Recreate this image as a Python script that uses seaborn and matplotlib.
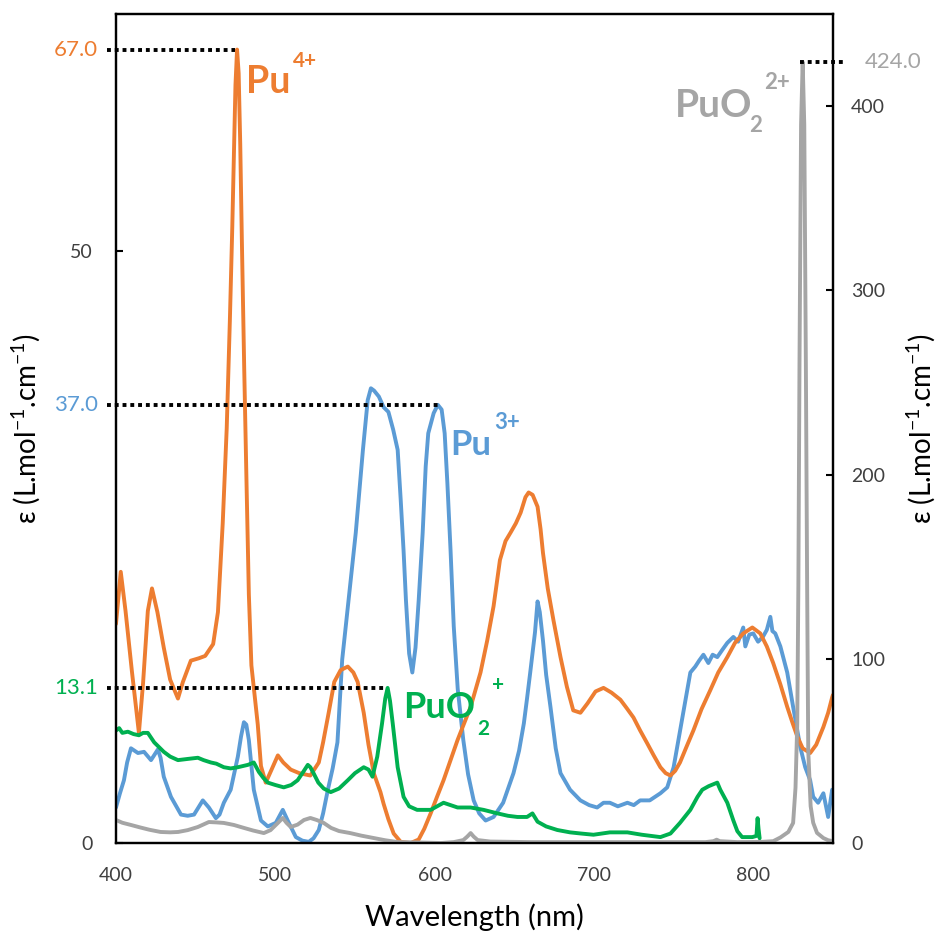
import matplotlib
matplotlib.use("Agg")
import matplotlib.pyplot as plt
import seaborn as sns

# ---------------- data ----------------
wl_pu4 = [400, 403, 406, 410, 414.4, 417, 420, 422.6, 426, 430, 434, 438.9, 442, 447, 452, 456, 461,
          464, 467, 469.5, 471.5, 473, 474, 475, 476, 477, 478, 479, 480.5, 482, 483.4, 485, 487, 489,
          491, 494, 497, 501.6, 505, 509.7, 515, 522, 527.3, 530, 533.5, 537, 541, 545.5, 549, 551.7,
          555.5, 558.5, 561.8, 566, 568, 571, 574.3, 578.7, 585, 590, 593.5, 597.5, 601.5, 605.6, 610,
          614.4, 618.5, 622.6, 628.8, 633, 637, 641, 644.5, 647.6, 651, 654, 657, 659, 661.5, 664.6,
          666.5, 668, 671, 674.6, 679, 683, 687, 691.5, 696, 701, 706, 711, 716.6, 720.5, 724.8, 729,
          733.5, 737.5, 741.7, 745, 748, 751, 754, 758, 762.4, 767.5, 773, 778, 783.7, 788.5, 793.7,
          799.4, 804.4, 808.5, 812.5, 817, 821.3, 824.5, 827.6, 831, 835.7, 839.5, 844, 847, 849.5, 850]
eps_pu4 = [18.5, 22.9, 19.6, 14.5, 9.3, 13.5, 19.6, 21.5, 19.5, 16.5, 13.8, 12.2, 13.6, 15.4, 15.6, 15.8, 16.8,
           19.5, 27.0, 35.0, 44.2, 52.0, 58.0, 64.0, 67.0, 65.0, 59.0, 51.0, 40.0, 30.0, 21.0, 15.0, 12.5, 10.0,
           6.5, 5.1, 6.0, 7.4, 6.8, 6.2, 5.9, 5.7, 6.8, 8.5, 11.0, 13.6, 14.6, 14.9, 14.4, 13.6,
           11.0, 8.3, 5.9, 4.3, 3.3, 2.0, 0.8, 0.1, 0.0, 0.3, 1.2, 2.5, 3.9, 5.3, 7.0,
           8.7, 10.1, 11.5, 14.4, 17.1, 20.0, 23.9, 25.5, 26.2, 27.0, 27.9, 29.2, 29.6, 29.4, 28.4,
           26.5, 24.5, 21.5, 18.8, 15.7, 13.2, 11.2, 11.0, 11.8, 12.8, 13.1, 12.7, 12.1, 11.4, 10.6, 9.5,
           8.4, 7.4, 6.4, 5.9, 5.7, 6.1, 6.8, 8.1, 9.5, 11.3, 12.9, 14.4, 15.7, 16.9, 17.7,
           18.2, 17.7, 16.6, 15.2, 13.4, 11.5, 10.2, 9.0, 8.0, 7.6, 8.3, 9.8, 11.0, 12.3, 12.5]

wl_pu3 = [400, 402.5, 405, 407, 409.4, 413.8, 417.6, 422, 426.3, 428, 430, 434.5, 440.8, 445, 449, 454.5,
          458.3, 462.7, 465, 467.7, 472, 476.5, 478.5, 480.3, 481.8, 483.4, 486.5, 491, 495.3, 500.3, 504.7,
          507.8, 512.9, 517, 521, 524, 527.3, 530, 533, 536, 539, 542, 546, 550.5, 555, 558, 560, 562,
          565, 568, 571, 574, 576.8, 578.7, 580.5, 582, 584, 586, 588, 590, 592.5, 594.4, 596, 599.4,
          602, 604.4, 606.3, 608, 610, 612, 614.5, 618, 621, 624.5, 628, 632, 637, 643, 649.5, 653,
          656, 658, 660, 663, 664.6, 666, 668, 670, 672.7, 676, 679, 685, 691.5, 697, 702, 706, 710,
          715, 721, 725, 729, 735, 741.7, 746, 750, 753, 757.4, 760.5, 763.6, 766, 768.7, 771.8, 774.5,
          777.4, 780.5, 783.7, 787.5, 790.5, 793.7, 795, 797.5, 800, 803, 806, 808.5, 810.7, 812, 813.8,
          817, 821.3, 825, 829.5, 832.6, 835.7, 837.6, 840.7, 844, 847, 849.5, 850]
eps_pu3 = [3.0, 4.2, 5.3, 6.8, 8.0, 7.6, 7.7, 7.0, 7.9, 7.2, 5.6, 3.9, 2.4, 2.3, 2.4, 3.6,
           3.0, 2.1, 2.4, 3.4, 4.5, 7.3, 9.0, 10.2, 10.0, 8.7, 4.5, 1.9, 1.4, 1.7, 2.8,
           1.9, 0.5, 0.2, 0.1, 0.4, 1.1, 2.5, 4.5, 6.3, 8.5, 15.5, 20.5, 26.2, 33.2, 37.4, 38.4, 38.2,
           37.7, 36.8, 36.4, 34.9, 33.2, 29.0, 24.7, 20.5, 16.0, 14.4, 16.5, 20.5, 26.2, 31.8, 34.6, 36.3,
           37.0, 36.6, 34.6, 30.4, 24.7, 18.3, 13.0, 8.7, 5.8, 3.6, 2.5, 1.9, 2.2, 3.4, 5.9, 7.8,
           10.1, 12.2, 14.4, 17.8, 20.4, 19.5, 17.1, 14.2, 11.5, 8.0, 5.9, 4.5, 3.6, 3.2, 3.0, 3.4, 3.4,
           3.1, 3.4, 3.2, 3.6, 3.6, 4.2, 4.7, 6.4, 8.7, 12.1, 14.4, 14.9, 15.4, 15.9, 15.2, 15.9,
           15.7, 16.3, 16.9, 17.4, 17.0, 18.2, 16.6, 17.6, 17.7, 17.0, 17.4, 18.0, 19.1, 17.9, 17.7,
           16.6, 14.4, 11.5, 8.1, 6.4, 5.3, 3.9, 3.4, 4.2, 2.2, 4.5, 4.0]

wl_puo2 = [400, 402, 404, 407.5, 411, 414.4, 417, 420, 424, 430, 434, 438.9, 445, 451.4, 455, 459.6, 463,
           467.7, 472, 476.5, 482.8, 486.5, 489.7, 492.5, 495.3, 500, 505.3, 510, 514, 517.5, 520.4, 522,
           524, 527, 530.4, 534.8, 540, 545.5, 550, 555.5, 558.5, 561, 564, 567, 569, 570.5, 572, 573.7,
           576.8, 580.5, 584, 589, 597.5, 605.6, 610, 614.4, 622.6, 630.7, 639.5, 646, 652, 658, 661.4,
           664.6, 670, 677, 685, 692, 699.7, 710, 721, 730, 741.7, 748, 754, 760.5, 765, 768, 772, 777.4,
           779.3, 783.7, 787.5, 790, 793, 799.4, 802, 802.7, 803.3, 804]
eps_puo2 = [9.5, 9.7, 9.3, 9.4, 9.2, 9.1, 9.3, 9.3, 8.5, 7.7, 7.3, 7.0, 7.1, 7.2, 7.0, 6.8, 6.7,
            6.4, 6.3, 6.4, 6.6, 6.8, 6.0, 5.5, 5.1, 4.9, 4.7, 4.9, 5.3, 6.0, 6.6, 6.4,
            5.9, 5.1, 4.6, 4.3, 4.6, 5.3, 5.9, 6.4, 6.2, 5.6, 7.3, 10.1, 12.2, 13.1, 12.0, 10.1,
            6.4, 3.9, 3.1, 2.8, 2.8, 3.4, 3.2, 3.0, 3.0, 2.8, 2.5, 2.3, 2.2, 2.2, 2.5,
            1.8, 1.4, 1.1, 0.9, 0.8, 0.7, 0.9, 0.9, 0.7, 0.5, 0.8, 1.7, 2.8, 3.9, 4.5, 4.8, 5.1,
            4.5, 3.4, 1.9, 1.0, 0.5, 0.5, 0.6, 2.1, 1.2, 0.4]

wl_puo22 = [400, 404, 409.4, 415, 421, 428, 434, 439, 445, 451.4, 458.3, 463, 467.7, 474, 480.3, 486,
            492.8, 497, 501.6, 504.7, 507, 509.7, 514, 518, 522, 526, 530.4, 535, 540, 547, 554, 561.8,
            569, 576.8, 590, 604, 612, 618, 620.5, 622.6, 624.5, 627, 635, 660, 700, 740, 770, 775, 777,
            779, 790, 805, 812.5, 817, 822, 825, 826.5, 827.6, 828.3, 829, 830, 831, 832, 833, 833.8,
            834.5, 836, 837.6, 840, 844, 847, 850]
eps_puo22 = [12.5, 11.0, 9.8, 8.5, 7.2, 6.0, 5.8, 6.0, 7.0, 8.7, 11.4, 11.2, 10.9, 9.8, 8.2, 6.8,
             5.4, 7.0, 10.9, 13.6, 11.0, 8.7, 10.0, 12.5, 13.6, 12.5, 10.9, 8.2, 6.5, 5.4, 4.0, 2.7,
             1.5, 0.5, 0.3, 0.0, 0.5, 1.6, 3.5, 5.4, 3.5, 1.6, 0.8, 0.5, 0.5, 0.5, 0.5, 1.0, 1.8,
             1.0, 0.5, 0.6, 1.0, 3.0, 6.0, 10.9, 30.0, 65.0, 140.0, 260.0, 390.0, 424.0, 390.0, 260.0, 140.0,
             50.0, 20.0, 11.0, 5.5, 2.7, 1.5, 1.0]

# marked maxima: (wavelength where the dotted guide ends, value)
peak_wl_left = [475, 604, 570]
peak_val_left = [67.0, 37.0, 13.1]
peak_wl_right = 829.5
peak_val_right = 424.0

x_ticks = [400, 500, 600, 700, 800]
y_left_ticks = [0, 50]
y_right_ticks = [0, 100, 200, 300, 400]

ORANGE = "#ED7D31"
BLUE = "#5B9BD5"
GREEN = "#00B050"
GRAY = "#A5A5A5"
TICKC = "#404040"

# ---------------- style ----------------
sns.set_theme(style="white")
plt.rcParams["font.family"] = ["Lato", "DejaVu Sans"]
plt.rcParams["mathtext.fontset"] = "custom"
plt.rcParams["mathtext.rm"] = "Lato"
plt.rcParams["mathtext.it"] = "Lato:italic"
plt.rcParams["mathtext.bf"] = "Lato:bold"

fig = plt.figure(figsize=(9.36, 9.31), dpi=100)
ax = fig.add_axes([0.1239, 0.0945, 0.766, 0.8904])
ax2 = ax.twinx()

LW = 2.8
sns.lineplot(x=wl_pu3, y=eps_pu3, ax=ax, color=BLUE, linewidth=LW, estimator=None, sort=False)
sns.lineplot(x=wl_pu4, y=eps_pu4, ax=ax, color=ORANGE, linewidth=LW, estimator=None, sort=False)
sns.lineplot(x=wl_puo2, y=eps_puo2, ax=ax, color=GREEN, linewidth=LW, estimator=None, sort=False)
sns.lineplot(x=wl_puo22, y=eps_puo22, ax=ax2, color=GRAY, linewidth=LW, estimator=None, sort=False)

ax.set_xlim(400, 850)
ax.set_ylim(0, 70)
ax2.set_ylim(0, 450)
ax.set_xticks(x_ticks)
ax.set_yticks(y_left_ticks)
ax2.set_yticks(y_right_ticks)

ax.tick_params(axis="both", direction="in", length=5, width=1.5, color="black",
               labelcolor=TICKC, labelsize=14)
ax.tick_params(axis="y", pad=17)
ax.tick_params(axis="x", pad=17)
ax2.tick_params(axis="y", direction="in", length=5, width=1.5, color="black",
                labelcolor=TICKC, labelsize=14, pad=13)

for a in (ax, ax2):
    for s in a.spines.values():
        s.set_color("black")
        s.set_linewidth(1.6)
        s.set_visible(True)

ylab = r"ε (L.mol$^{-1}$.cm$^{-1}$)"
ax.set_ylabel(ylab, fontsize=20, color="black")
ax.yaxis.set_label_coords(-0.103, 0.5)
ax2.set_ylabel(ylab, fontsize=20, color="black")
ax2.yaxis.set_label_coords(1.100, 0.5)
ax.set_xlabel("Wavelength (nm)", fontsize=21, color="black")
ax.xaxis.set_label_coords(0.5, -0.073)

# dotted guides + coloured value labels
label_cols = [ORANGE, BLUE, GREEN]
for wl, v, c in zip(peak_wl_left, peak_val_left, label_cols):
    ax.plot([394.5, wl], [v, v], color="black", linestyle=(0, (1, 1)), linewidth=2.8,
            clip_on=False, zorder=5, dash_capstyle="butt")
    ax.annotate(f"{v:.1f}", xy=(0, v), xycoords=("axes fraction", "data"),
                xytext=(-13, 0), textcoords="offset points", ha="right", va="center",
                color=c, fontsize=16, annotation_clip=False)
ax2.plot([peak_wl_right, 856], [peak_val_right, peak_val_right], color="black",
         linestyle=(0, (1, 1)), linewidth=2.8, clip_on=False, zorder=5, dash_capstyle="butt")
ax2.annotate(f"{peak_val_right:.1f}", xy=(1, peak_val_right), xycoords=("axes fraction", "data"),
             xytext=(23, 0), textcoords="offset points", ha="left", va="center",
             color=GRAY, fontsize=16, annotation_clip=False)

# species labels
def lab(x, y, s, c, size):
    ax.text(x, y, s, color=c, fontsize=size, fontweight="bold", ha="left", va="baseline",
            zorder=6, clip_on=False)

lab(481.5, 63.3, "Pu", ORANGE, 27)
lab(511.0, 65.5, "4+", ORANGE, 15)
lab(610.0, 32.8, "Pu", BLUE, 25)
lab(637.6, 35.0, "3+", BLUE, 16)
lab(580.0, 10.56, "PuO", GREEN, 26)
lab(626.5, 9.1, "2", GREEN, 15)
lab(636.0, 12.8, "+", GREEN, 15)
lab(750.5, 61.3, "PuO", GRAY, 28)
lab(797.5, 60.0, "2", GRAY, 16)
lab(806.5, 63.7, "2+", GRAY, 16)

fig.savefig("out.png", dpi=100)
